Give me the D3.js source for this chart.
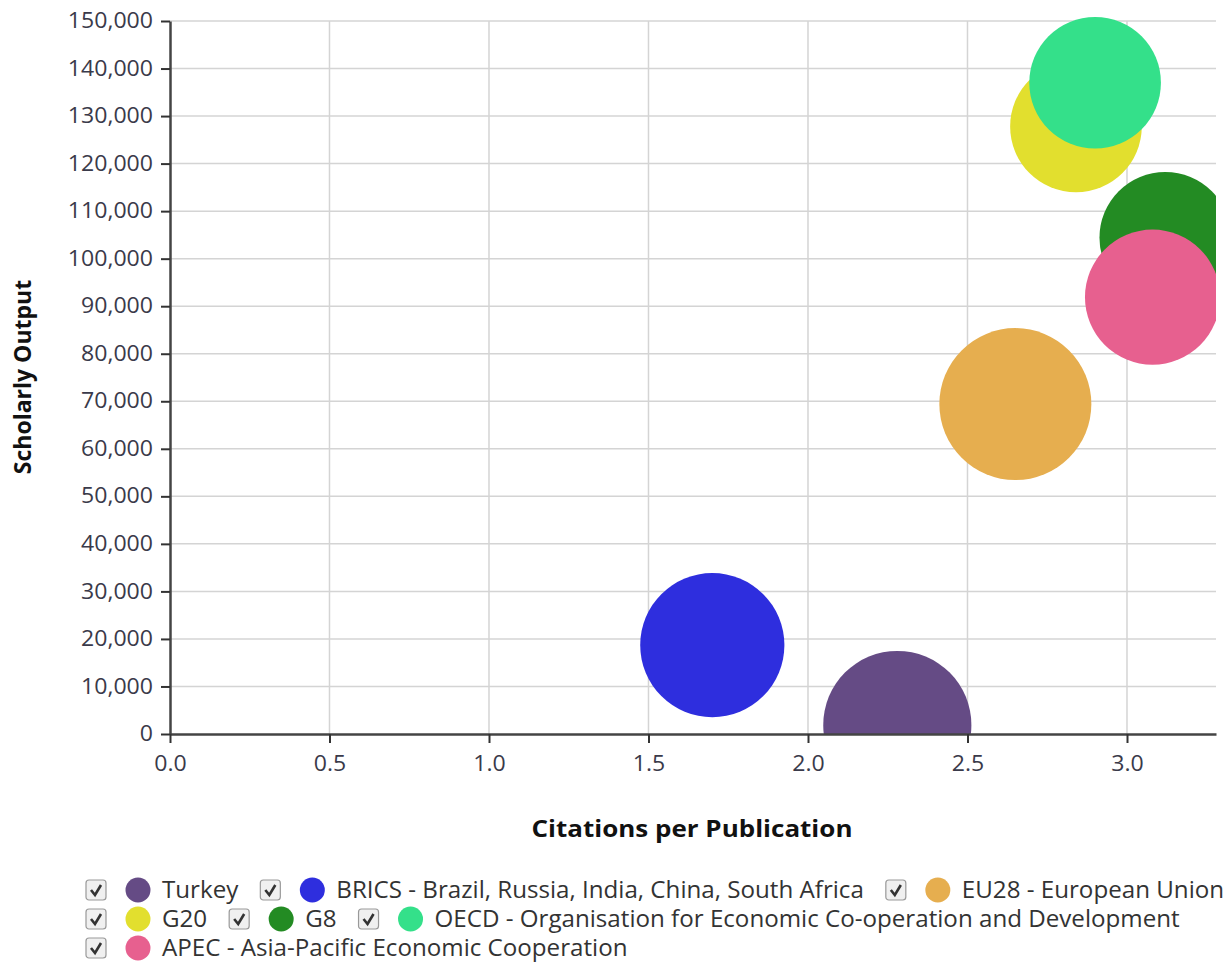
<!DOCTYPE html>
<html>
<head>
<meta charset="utf-8">
<script src="https://cdn.jsdelivr.net/npm/d3@7"></script>
<style>
  html, body { margin: 0; padding: 0; background: #fff; }
  svg { display: block; }
  text { font-family: "Open Sans", sans-serif; }
</style>
</head>
<body>
<svg id="chart" width="1226" height="964"></svg>
<script>
// ---- data ----
const categories = [
  "Turkey",
  "BRICS - Brazil, Russia, India, China, South Africa",
  "EU28 - European Union",
  "G20",
  "G8",
  "OECD - Organisation for Economic Co-operation and Development",
  "APEC - Asia-Pacific Economic Cooperation"
];
const citationsPerPublication = [2.28, 1.70, 2.65, 2.84, 3.12, 2.90, 3.08];
const scholarlyOutput = [1900, 18700, 69400, 127800, 104400, 137000, 91900];
const bubbleSize = [95, 90, 100, 75, 75, 75, 79];
const colors = ["#654b85", "#2e2ede", "#e6ae4f", "#e2df2e", "#238b23", "#34e08a", "#e7608f"];
const xTicks = [0, 0.5, 1.0, 1.5, 2.0, 2.5, 3.0];
const yTicks = [0, 10000, 20000, 30000, 40000, 50000, 60000, 70000, 80000, 90000, 100000, 110000, 120000, 130000, 140000, 150000];

// ---- layout ----
const svg = d3.select("#chart");
const pLeft = 170, pRight = 1216, pTop = 21, pBottom = 734;
const sx = 1.05; // slight horizontal widening of glyphs, as in the reference

const x = d3.scaleLinear().domain([0, 3.279]).range([pLeft, pRight]);
const y = d3.scaleLinear().domain([0, 150000]).range([pBottom, pTop]);
const r = d3.scaleSqrt().domain([0, d3.max(bubbleSize)]).range([0, 76]);

// gridlines
const grid = svg.append("g");
grid.selectAll("line.v").data(xTicks.slice(1)).join("line")
  .attr("x1", d => x(d)).attr("x2", d => x(d))
  .attr("y1", pTop).attr("y2", pBottom)
  .attr("stroke", "#d4d4d4").attr("stroke-width", 1.5);
grid.selectAll("line.h").data(yTicks.slice(1)).join("line")
  .attr("x1", pLeft).attr("x2", pRight)
  .attr("y1", d => y(d)).attr("y2", d => y(d))
  .attr("stroke", "#d4d4d4").attr("stroke-width", 1.5);

// bubbles
svg.append("clipPath").attr("id", "clip")
  .append("rect").attr("x", pLeft).attr("y", 0).attr("width", pRight - pLeft).attr("height", pBottom);
const data = categories.map((c, i) => ({
  name: c, cx: citationsPerPublication[i], cy: scholarlyOutput[i], s: bubbleSize[i], color: colors[i]
}));
svg.append("g").attr("clip-path", "url(#clip)")
  .selectAll("circle").data(data).join("circle")
  .attr("cx", d => x(d.cx)).attr("cy", d => y(d.cy)).attr("r", d => r(d.s))
  .attr("fill", d => d.color);

// axes
const yAxis = svg.append("g").attr("transform", `translate(${pLeft},0)`)
  .call(d3.axisLeft(y).tickValues(yTicks).tickFormat(d3.format(",")).tickSize(9).tickSizeOuter(0).tickPadding(8));
const xAxis = svg.append("g").attr("transform", `translate(0,${pBottom})`)
  .call(d3.axisBottom(x).tickValues(xTicks).tickFormat(d3.format(".1f")).tickSize(9).tickSizeOuter(0).tickPadding(12));
[yAxis, xAxis].forEach(a => {
  a.select(".domain").attr("stroke", "#444").attr("stroke-width", 2.5);
  a.selectAll(".tick line").attr("stroke", "#333").attr("stroke-width", 2);
  a.selectAll(".tick text").attr("fill", "#3a3a4a").style("font-size", "22px");
});
yAxis.selectAll(".tick text").each(function () {
  const t = d3.select(this);
  const tx = +t.attr("x");
  t.attr("x", 0).attr("dy", "0.3em").attr("transform", `translate(${tx},0) scale(${sx},1)`);
});
xAxis.selectAll(".tick text").attr("transform", `scale(${sx},1)`);

// axis titles
svg.append("text").attr("transform", `translate(692,837) scale(1.13,1)`).attr("text-anchor", "middle")
  .style("font-size", "23px").style("font-weight", "bold").attr("fill", "#111")
  .text("Citations per Publication");
svg.append("text").attr("transform", "translate(31,377) rotate(-90)").attr("text-anchor", "middle")
  .style("font-size", "23px").style("font-weight", "bold").attr("fill", "#111")
  .text("Scholarly Output");

// legend
const legend = svg.append("g");
const rowY = [890, 919, 948];
const lsx = 1.05;
let lx = 86, row = 0;
const maxX = 1230;
data.forEach((d, i) => {
  const g = legend.append("g");
  const t = g.append("text").attr("x", 0).attr("y", 0).attr("dy", "0.35em")
    .attr("transform", `translate(76,0) scale(${lsx},1)`)
    .style("font-size", "23px").attr("fill", "#333").text(d.name);
  const w = t.node().getComputedTextLength() * lsx;
  const itemW = 76 + w;
  if (lx + itemW > maxX && lx > 86) { row++; lx = 86; }
  g.attr("transform", `translate(${lx},${rowY[row]})`);
  g.append("rect").attr("x", 0).attr("y", -10).attr("width", 20).attr("height", 20).attr("rx", 3)
    .attr("fill", "#f0f0f0").attr("stroke", "#999").attr("stroke-width", 1.2);
  g.append("path").attr("d", "M5,0 L9,5 L15,-5")
    .attr("fill", "none").attr("stroke", "#333").attr("stroke-width", 2.6);
  g.append("circle").attr("cx", 52).attr("cy", 0).attr("r", 12.5).attr("fill", d.color);
  lx += itemW + 22;
});
</script>
</body>
</html>
